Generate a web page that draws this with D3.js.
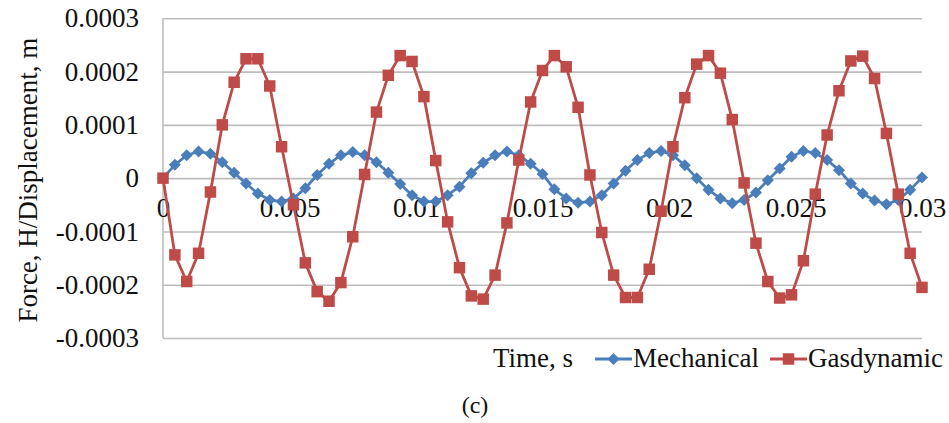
<!DOCTYPE html>
<html>
<head>
<meta charset="utf-8">
<script src="https://cdn.jsdelivr.net/npm/d3@7"></script>
<style>
  html, body { margin: 0; padding: 0; background: #fff; }
  svg { display: block; }
  svg text { font-family: "Liberation Serif", "Times New Roman", serif; fill: #111; }
</style>
</head>
<body>
<svg id="chart" width="949" height="423"></svg>
<script>
// Time samples, s
const time = [
  0, 0.00046875, 0.0009375, 0.00140625, 0.001875, 0.00234375, 0.0028125, 0.00328125,
  0.00375, 0.00421875, 0.0046875, 0.00515625, 0.005625, 0.00609375, 0.0065625, 0.00703125,
  0.0075, 0.00796875, 0.0084375, 0.00890625, 0.009375, 0.00984375, 0.0103125, 0.01078125,
  0.01125, 0.01171875, 0.0121875, 0.01265625, 0.013125, 0.01359375, 0.0140625, 0.01453125,
  0.015, 0.01546875, 0.0159375, 0.01640625, 0.016875, 0.01734375, 0.0178125, 0.01828125,
  0.01875, 0.01921875, 0.0196875, 0.02015625, 0.020625, 0.02109375, 0.0215625, 0.02203125,
  0.0225, 0.02296875, 0.0234375, 0.02390625, 0.024375, 0.02484375, 0.0253125, 0.02578125,
  0.02625, 0.02671875, 0.0271875, 0.02765625, 0.028125, 0.02859375, 0.0290625, 0.02953125,
  0.03
];

// Mechanical response
const mechanical = [
  0, 0.000025, 0.000043, 0.000050, 0.000046, 0.000030, 0.000010, -0.000010,
  -0.000029, -0.000041, -0.000044, -0.000038, -0.000019, 0.000006, 0.000027, 0.000043,
  0.000049, 0.000043, 0.000030, 0.000010, -0.000011, -0.000032, -0.000044, -0.000044,
  -0.000032, -0.000016, 0.000009, 0.000029, 0.000043, 0.000050, 0.000043, 0.000027,
  0.000008, -0.000021, -0.000038, -0.000046, -0.000044, -0.000032, -0.000010, 0.000014,
  0.000034, 0.000047, 0.000051, 0.000043, 0.000024, 0.000000, -0.000022, -0.000038,
  -0.000047, -0.000041, -0.000027, -0.000004, 0.000018, 0.000040, 0.000051, 0.000047,
  0.000034, 0.000015, -0.000010, -0.000029, -0.000042, -0.000049, -0.000041, -0.000022,
  0.000001
];

// Gasdynamic response
const gasdynamic = [
  0, -0.000144, -0.000194, -0.000141, -0.000026, 0.000100, 0.000180, 0.000224,
  0.000224, 0.000173, 0.000059, -0.000050, -0.000159, -0.000213, -0.000231, -0.000196,
  -0.000110, 0.000007, 0.000124, 0.000193, 0.000230, 0.000219, 0.000153, 0.000033,
  -0.000082, -0.000168, -0.000221, -0.000227, -0.000182, -0.000084, 0.000034, 0.000143,
  0.000202, 0.000230, 0.000209, 0.000133, 0.000006, -0.000102, -0.000182, -0.000224,
  -0.000224, -0.000171, -0.000062, 0.000059, 0.000151, 0.000214, 0.000230, 0.000197,
  0.000110, -0.000009, -0.000122, -0.000194, -0.000225, -0.000219, -0.000155, -0.000030,
  0.000081, 0.000164, 0.000220, 0.000229, 0.000187, 0.000084, -0.000030, -0.000141,
  -0.000205
];

const xTicks = [0, 0.005, 0.01, 0.015, 0.02, 0.025, 0.03];
const yTicks = [-0.0003, -0.0002, -0.0001, 0, 0.0001, 0.0002, 0.0003];
const seriesNames = ["Mechanical", "Gasdynamic"];
const xTitle = "Time, s";
const yTitle = "Force, H/Displacement, m";
const caption = "(c)";

const colors = { Mechanical: "#4a7ebb", Gasdynamic: "#be4b48" };
const serif = "Liberation Serif";

const svg = d3.select("#chart");
const plot = { left: 163, right: 922, top: 18.3, bottom: 338 };

const x = d3.scaleLinear().domain([0, 0.03]).range([plot.left, plot.right]);
const y = d3.scaleLinear().domain([-0.0003, 0.0003]).range([plot.bottom, plot.top]);

// Horizontal gridlines + value labels
const yAxis = d3.axisLeft(y)
  .tickValues(yTicks)
  .tickSize(-(plot.right - plot.left))
  .tickPadding(24)
  .tickFormat(d => Math.abs(d) < 1e-12 ? "0" : d.toFixed(4));

const gy = svg.append("g")
  .attr("transform", `translate(${plot.left},0)`)
  .call(yAxis)
  .attr("font-family", serif)
  .attr("font-size", 27);
gy.select(".domain").remove();
gy.selectAll(".tick line").attr("stroke", "#bdbdbd").attr("stroke-width", 1.6);
gy.selectAll(".tick text").attr("font-family", serif).attr("fill", "#111");

// Left edge of the plot area
svg.append("line")
  .attr("x1", plot.left).attr("x2", plot.left)
  .attr("y1", plot.top).attr("y2", plot.bottom)
  .attr("stroke", "#bdbdbd").attr("stroke-width", 1.6);

// Time labels sitting just under the zero line
const xAxis = d3.axisBottom(x)
  .tickValues(xTicks)
  .tickSize(0)
  .tickPadding(20)
  .tickFormat(d => String(+d.toFixed(3)));

const gx = svg.append("g")
  .attr("transform", `translate(0,${y(0)})`)
  .call(xAxis)
  .attr("font-family", serif)
  .attr("font-size", 27);
gx.select(".domain").remove();
gx.selectAll(".tick text").attr("font-family", serif).attr("fill", "#111");

// Vertical axis title
svg.append("text")
  .attr("transform", `translate(37,${(plot.top + plot.bottom) / 2 + 2}) rotate(-90)`)
  .attr("text-anchor", "middle")
  .attr("font-size", 27)
  .text(yTitle);

// Series
const pointsOf = vals => time.map((t, i) => ({ t, v: vals[i] }));
const line = d3.line().x(d => x(d.t)).y(d => y(d.v));

const diamond = d3.symbol().type(d3.symbolDiamond2).size(92);
const square = d3.symbol().type(d3.symbolSquare).size(132);

function drawSeries(name, vals, sym) {
  const g = svg.append("g").attr("class", "series");
  g.append("path")
    .datum(pointsOf(vals))
    .attr("d", line)
    .attr("fill", "none")
    .attr("stroke", colors[name])
    .attr("stroke-width", 2.8)
    .attr("stroke-linejoin", "round");
  g.selectAll("path.mark")
    .data(pointsOf(vals))
    .join("path")
    .attr("class", "mark")
    .attr("d", sym)
    .attr("transform", d => `translate(${x(d.t)},${y(d.v)})`)
    .attr("fill", colors[name]);
}

drawSeries("Mechanical", mechanical, diamond);
drawSeries("Gasdynamic", gasdynamic, square);

// Legend row with the time-axis title at its left
const legendY = 367;
svg.append("text")
  .attr("x", 493).attr("y", legendY)
  .attr("font-size", 27)
  .text(xTitle);

const legendItems = [
  { name: seriesNames[0], x0: 595, sym: diamond },
  { name: seriesNames[1], x0: 770, sym: square }
];
legendItems.forEach(it => {
  const g = svg.append("g");
  g.append("line")
    .attr("x1", it.x0).attr("x2", it.x0 + 37)
    .attr("y1", legendY - 8).attr("y2", legendY - 8)
    .attr("stroke", colors[it.name]).attr("stroke-width", 2.8);
  g.append("path")
    .attr("d", it.sym)
    .attr("transform", `translate(${it.x0 + 18.5},${legendY - 8})`)
    .attr("fill", colors[it.name]);
  g.append("text")
    .attr("x", it.x0 + 38).attr("y", legendY)
    .attr("font-size", 27)
    .text(it.name);
});

// Panel caption
svg.append("text")
  .attr("x", 475).attr("y", 413)
  .attr("text-anchor", "middle")
  .attr("font-size", 24)
  .text(caption);
</script>
</body>
</html>
